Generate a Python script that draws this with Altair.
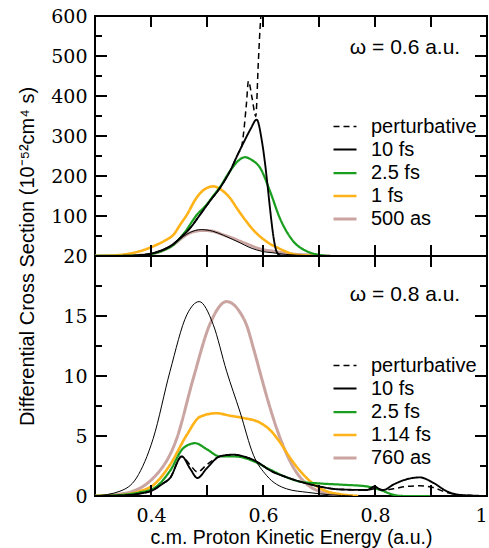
import altair as alt
import pandas as pd

# ---------------- top panel (omega = 0.6 a.u.) ----------------
top_names = ["perturbative", "10 fs", "2.5 fs", "1 fs", "500 as"]

top_pert_x = [0.30, 0.35, 0.38, 0.40, 0.42, 0.44, 0.452, 0.47, 0.4875, 0.505, 0.523, 0.541, 0.556, 0.562, 0.5705, 0.574, 0.5805, 0.587, 0.5916, 0.5946, 0.5962]
top_pert_y = [0, 0.5, 2, 6, 15, 30, 45, 70, 103, 137, 170, 212, 257, 275, 382, 437, 395, 349, 482, 566, 600]

top_10fs_x = [0.30, 0.35, 0.38, 0.40, 0.42, 0.44, 0.452, 0.47, 0.4875, 0.505, 0.523, 0.541, 0.556, 0.568, 0.578, 0.5887, 0.5976, 0.6036, 0.609, 0.614, 0.619, 0.624, 0.63, 0.64, 0.70]
top_10fs_y = [0, 0.5, 2, 6, 15, 30, 45, 70, 103, 137, 170, 212, 257, 291, 318, 341, 291, 232, 165, 100, 45, 12, 2, 0, 0]

top_25fs_x = [0.30, 0.35, 0.38, 0.40, 0.42, 0.44, 0.458, 0.482, 0.499, 0.511, 0.523, 0.541, 0.555, 0.568, 0.58, 0.595, 0.6125, 0.63, 0.654, 0.678, 0.70, 0.72]
top_25fs_y = [0, 0.3, 1.5, 5, 13, 28, 55, 103, 128, 150, 172, 212, 237, 247, 240, 220, 162, 95, 37, 12, 3, 0]

top_1fs_x = [0.30, 0.339, 0.38, 0.41, 0.428, 0.44, 0.452, 0.464, 0.481, 0.496, 0.511, 0.526, 0.541, 0.555, 0.570, 0.584, 0.598, 0.613, 0.627, 0.641, 0.655, 0.68, 0.70]
top_1fs_y = [0, 2, 12, 28, 41, 53, 78, 103, 145, 167, 174, 165, 145, 116, 87, 63, 45, 30, 20, 11, 4, 1, 0]

top_500as_x = [0.30, 0.35, 0.38, 0.40, 0.42, 0.44, 0.458, 0.47, 0.4935, 0.51, 0.529, 0.545, 0.559, 0.575, 0.589, 0.60, 0.618, 0.64, 0.66, 0.678, 0.70, 0.72]
top_500as_y = [0, 0.5, 2, 5, 13, 28, 48, 58, 64, 62, 53, 45, 37, 28, 20, 16, 12, 7, 4, 3, 1, 0]

top_thin_x = [0.30, 0.35, 0.38, 0.40, 0.42, 0.44, 0.458, 0.47, 0.49, 0.51, 0.529, 0.545, 0.559, 0.575, 0.589, 0.60, 0.618, 0.64, 0.66, 0.68, 0.70]
top_thin_y = [0, 0.5, 2, 5, 13, 28, 49, 59, 66, 62, 52, 42, 33, 22, 15, 11, 8, 4, 2, 1, 0]

# ---------------- bottom panel (omega = 0.8 a.u.) ----------------
bot_names = ["perturbative", "10 fs", "2.5 fs", "1.14 fs", "760 as"]

bot_pert_x = [0.30, 0.35, 0.38, 0.404, 0.42, 0.434, 0.455, 0.4696, 0.483, 0.4995, 0.523, 0.547, 0.565, 0.583, 0.618, 0.64, 0.666, 0.70, 0.7375, 0.785, 0.80, 0.815, 0.8327, 0.857, 0.88, 0.904, 0.928, 0.95, 1.0]
bot_pert_y = [0, 0.05, 0.2, 0.5, 1.0, 1.5, 3.3, 2.6, 2.0, 2.6, 3.3, 3.45, 3.3, 3.0, 2.0, 1.6, 1.2, 0.8, 0.55, 0.5, 0.6, 0.5, 0.6, 0.8, 0.85, 0.7, 0.3, 0.1, 0]

bot_10fs_x = [0.30, 0.35, 0.38, 0.404, 0.42, 0.434, 0.455, 0.4696, 0.483, 0.4995, 0.523, 0.547, 0.565, 0.583, 0.618, 0.64, 0.666, 0.70, 0.7375, 0.785, 0.80, 0.805, 0.815, 0.8327, 0.857, 0.88, 0.904, 0.928, 0.95, 1.0]
bot_10fs_y = [0, 0.05, 0.2, 0.5, 1.0, 1.5, 3.3, 2.3, 1.5, 2.3, 3.3, 3.45, 3.3, 3.0, 2.0, 1.6, 1.2, 0.8, 0.55, 0.5, 0.8, 0.65, 0.5, 0.95, 1.4, 1.55, 1.1, 0.4, 0.1, 0]

bot_25fs_x = [0.30, 0.35, 0.38, 0.404, 0.434, 0.458, 0.479, 0.4995, 0.523, 0.547, 0.565, 0.583, 0.6125, 0.64, 0.666, 0.70, 0.7375, 0.785, 0.81, 0.8327, 0.85, 0.90]
bot_25fs_y = [0, 0.1, 0.3, 0.6, 2.1, 4.0, 4.4, 3.9, 3.3, 3.3, 3.2, 2.9, 2.2, 1.6, 1.2, 1.05, 0.95, 0.8, 0.5, 0.1, 0, 0]

bot_114fs_x = [0.30, 0.35, 0.38, 0.404, 0.434, 0.464, 0.4875, 0.517, 0.54, 0.565, 0.595, 0.6125, 0.63, 0.648, 0.666, 0.678, 0.708, 0.738, 0.77]
bot_114fs_y = [0, 0.1, 0.4, 0.9, 2.6, 5.1, 6.6, 6.9, 6.7, 6.5, 6.1, 5.5, 4.5, 3.2, 2.1, 1.5, 0.5, 0.15, 0]

bot_760as_x = [0.30, 0.35, 0.404, 0.446, 0.4755, 0.505, 0.535, 0.559, 0.571, 0.583, 0.60, 0.6066, 0.63, 0.654, 0.678, 0.70, 0.73, 0.76]
bot_760as_y = [0, 0.2, 1.5, 4.8, 9.8, 14.3, 16.2, 15.3, 14.2, 12.3, 9.4, 8.3, 4.9, 2.4, 1.0, 0.4, 0.1, 0]

bot_thin_x = [0.30, 0.3446, 0.374, 0.404, 0.434, 0.464, 0.486, 0.511, 0.535, 0.559, 0.583, 0.6066, 0.642, 0.68, 0.72, 0.76]
bot_thin_y = [0, 0.4, 1.5, 4.8, 10.4, 15.1, 16.2, 14.3, 10.4, 7.0, 3.4, 1.7, 0.6, 0.3, 0.1, 0]

# ---------------- axis ticks ----------------
x_ticks = [0.4, 0.5, 0.6, 0.7, 0.8, 0.9]
x_labels = [0.4, 0.6, 0.8, 1.0]
top_y_major = [100, 200, 300, 400, 500]
top_y_minor = [50, 150, 250, 350, 450, 550]
top_y_labels = [100, 200, 300, 400, 500, 600]
bot_y_major = [5, 10, 15]
bot_y_minor = [2.5, 7.5, 12.5, 17.5]
bot_y_labels = [0, 5, 10, 15, 20]

colors = ["black", "black", "#1a9e1f", "#ffb319", "#c9a4a1"]
dashes = [[6, 4], [1, 0], [1, 0], [1, 0], [1, 0]]
widths = [1.5, 3, 2.5, 2.5, 3.5]

W, H = 392, 240
XDOM = [0.3, 1.0]
SERIF = "DejaVu Serif"
SANS = "Liberation Sans"
TICKFS = 19


def long_df(names, pairs):
    rows = []
    # drawing order: last legend item first, perturbative last
    for name, (xs, ys) in reversed(list(zip(names, pairs))):
        for a, b in zip(xs, ys):
            rows.append({"E": a, "v": b, "series": name})
    return pd.DataFrame(rows)


def panel(names, pairs, thin, ydom, ylabels, ymaj, ymin, omega, show_x, legend_y, omega_y, ytitle):
    df = long_df(names, pairs)
    xscale = alt.Scale(domain=XDOM, nice=False, zero=False)
    yscale = alt.Scale(domain=ydom, nice=False, zero=False)
    if show_x:
        xaxis = alt.Axis(values=x_labels, ticks=False, domain=False, grid=False,
                         labelExpr="datum.value == 1 ? '1' : format(datum.value, '.1f')",
                         labelFont=SERIF, labelFontSize=TICKFS, labelPadding=10, labelColor="black",
                         labelFlush=True, title="c.m. Proton Kinetic Energy (a.u.)",
                         titleFont=SANS, titleFontSize=19.5, titleFontWeight="normal",
                         titlePadding=3, titleColor="black")
    else:
        xaxis = None
    ycommon = dict(values=ylabels, ticks=False, domain=False, grid=False, labelFlush=False,
                   labelFont=SERIF, labelFontSize=TICKFS, labelPadding=8, labelColor="black")
    if ytitle:
        yaxis = alt.Axis(title="Differential Cross Section (10\u207b\u2075\u00b2cm\u2074 s)", titleY=H,
                         titleFont=SANS, titleFontSize=20, titleFontWeight="normal",
                         titlePadding=13, titleColor="black", **ycommon)
    else:
        yaxis = alt.Axis(title=None, **ycommon)

    leg = alt.Legend(title=None, orient="none", legendX=237, legendY=legend_y,
                     labelFont=SANS, labelFontSize=20, labelColor="black",
                     symbolSize=529, symbolType="stroke", labelOffset=13, padding=0,
                     rowPadding=0)
    lines = alt.Chart(df).mark_line(interpolate="monotone", clip=True).encode(
        x=alt.X("E:Q", scale=xscale, axis=xaxis),
        y=alt.Y("v:Q", scale=yscale, axis=yaxis),
        color=alt.Color("series:N", scale=alt.Scale(domain=names, range=colors), legend=leg),
        strokeDash=alt.StrokeDash("series:N", scale=alt.Scale(domain=names, range=dashes), legend=leg),
        strokeWidth=alt.StrokeWidth("series:N", scale=alt.Scale(domain=names, range=widths), legend=leg),
    )
    thin_df = pd.DataFrame({"E": thin[0], "v": thin[1]})
    thin_line = alt.Chart(thin_df).mark_line(interpolate="monotone", color="black", strokeWidth=1, clip=True).encode(
        x=alt.X("E:Q", scale=xscale), y=alt.Y("v:Q", scale=yscale))

    def yrule(vals, x0, x1):
        return alt.Chart(pd.DataFrame({"v": vals})).mark_rule(color="black", strokeWidth=2).encode(
            y=alt.Y("v:Q", scale=yscale), x=alt.value(x0), x2=alt.value(x1))

    def xrule(vals, y0, y1):
        return alt.Chart(pd.DataFrame({"E": vals})).mark_rule(color="black", strokeWidth=2).encode(
            x=alt.X("E:Q", scale=xscale), y=alt.value(y0), y2=alt.value(y1))

    ticks = [
        yrule(ymaj, 0, 12), yrule(ymaj, W - 12, W),
        yrule(ymin, 0, 7), yrule(ymin, W - 7, W),
        xrule(x_ticks, H - 11, H), xrule(x_ticks, 0, 11),
    ]
    label = alt.Chart(pd.DataFrame({"t": [omega]})).mark_text(
        font=SANS, fontSize=21, color="black", align="center", baseline="middle"
    ).encode(text="t:N", x=alt.value(310), y=alt.value(omega_y))

    return alt.layer(lines, thin_line, *ticks, label).properties(width=W, height=H)


top = panel(top_names,
            [(top_pert_x, top_pert_y), (top_10fs_x, top_10fs_y), (top_25fs_x, top_25fs_y),
             (top_1fs_x, top_1fs_y), (top_500as_x, top_500as_y)],
            (top_thin_x, top_thin_y), [0, 600], top_y_labels, top_y_major, top_y_minor,
            "\u03c9 = 0.6 a.u.", False, 98, 32, True)

bottom = panel(bot_names,
               [(bot_pert_x, bot_pert_y), (bot_10fs_x, bot_10fs_y), (bot_25fs_x, bot_25fs_y),
                (bot_114fs_x, bot_114fs_y), (bot_760as_x, bot_760as_y)],
               (bot_thin_x, bot_thin_y), [0, 20], bot_y_labels, bot_y_major, bot_y_minor,
               "\u03c9 = 0.8 a.u.", True, 97, 39, False)

chart = alt.vconcat(top, bottom, spacing=0, bounds="flush").resolve_scale(
    color="independent", strokeDash="independent", strokeWidth="independent"
).resolve_legend(
    color="independent", strokeDash="independent", strokeWidth="independent"
).properties(
    padding={"left": 16, "top": 6, "right": 0, "bottom": 2},
    background="white"
).configure_axis(
    labelFont=SERIF, labelFontSize=TICKFS, labelColor="black",
    titleFont=SANS, titleFontWeight="normal", titleColor="black"
).configure_legend(
    labelFont=SANS, labelFontSize=20, labelColor="black"
).configure_view(
    stroke="black", strokeWidth=2
)

chart.save("out.html", embed_options={"renderer": "svg", "actions": False})
